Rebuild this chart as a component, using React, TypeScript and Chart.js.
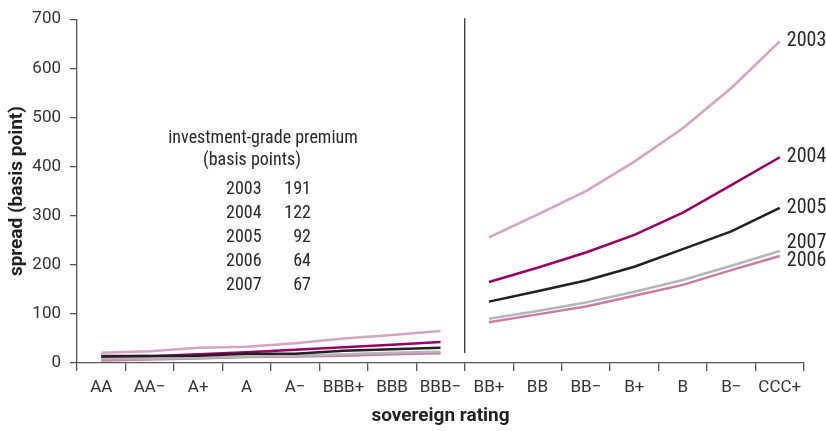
import React, { useEffect, useRef } from "react";
import { Chart, registerables } from "chart.js";

Chart.register(...registerables);

const ratings = ["AA", "AA\u2212", "A+", "A", "A\u2212", "BBB+", "BBB", "BBB\u2212", "BB+", "BB", "BB\u2212", "B+", "B", "B\u2212", "CCC+"];
const yTicks = [0, 100, 200, 300, 400, 500, 600, 700];

const s2003 = [21, 24, 31, 33, 40, 50, 57, 65, 256, 302, 350, 410, 478, 560, 655];
const s2004 = [14, 14, 18, 22, 27, 32, 37, 43, 165, 194, 225, 261, 306, 362, 419];
const s2005 = [13, 14, 15, 19, 19, 25, 28, 31, 125, 146, 168, 196, 232, 268, 316];
const s2006 = [5, 7, 9, 12, 13, 15, 18, 20, 83, 99, 115, 137, 159, 189, 218];
const s2007 = [9, 9, 10, 13, 15, 18, 21, 23, 90, 106, 123, 145, 169, 198, 228];

const premiumYears = ["2003", "2004", "2005", "2006", "2007"];
const premiumValues = ["191", "122", "92", "64", "67"];

const FAMILY = "Roboto, sans-serif";
const STRETCH = "condensed";

const seriesDefs = [
  { label: "2005", data: s2005, color: "#231f20", dy: 0 },
  { label: "2004", data: s2004, color: "#990066", dy: 0 },
  { label: "2007", data: s2007, color: "#b3b5b8", dy: -8 },
  { label: "2006", data: s2006, color: "#c97ba3", dy: 5 },
  { label: "2003", data: s2003, color: "#d4a2c2", dy: 0 },
];

const overlay = {
  id: "overlay",
  afterDatasetsDraw(chart: any) {
    const { ctx, scales } = chart;
    const x = scales.x;
    const y = scales.y;
    ctx.save();
    const xd = (x.getPixelForValue(7) + x.getPixelForValue(8)) / 2;
    ctx.strokeStyle = "#231f20";
    ctx.lineWidth = 1.2;
    ctx.beginPath();
    ctx.moveTo(xd, chart.chartArea.top - 1);
    ctx.lineTo(xd, chart.chartArea.bottom - 10);
    ctx.stroke();

    ctx.fillStyle = "#2a2627";
    ctx.font = `${STRETCH} 20px ${FAMILY}`;
    ctx.textAlign = "left";
    ctx.textBaseline = "middle";
    chart.data.datasets.forEach((ds: any, i: number) => {
      const last = ds.data.length - 1;
      const px = x.getPixelForValue(last) + 7;
      const py = y.getPixelForValue(ds.data[last]) + seriesDefs[i].dy;
      ctx.fillText(ds.label, px, py);
    });

    ctx.font = `${STRETCH} 18px ${FAMILY}`;
    ctx.textAlign = "center";
    ctx.fillText("investment-grade premium", 263, 138);
    ctx.fillText("(basis points)", 252, 160);
    premiumYears.forEach((yr, i) => {
      const ry = 189 + i * 24;
      ctx.textAlign = "left";
      ctx.fillText(yr, 226, ry);
      ctx.textAlign = "right";
      ctx.fillText(premiumValues[i], 311, ry);
    });
    ctx.restore();
  },
};

export default function App() {
  const ref = useRef<HTMLCanvasElement>(null);
  useEffect(() => {
    document.body.style.margin = "0";
    const canvas = ref.current!;
    const chart = new Chart(canvas, {
      type: "line",
      data: {
        labels: ratings,
        datasets: seriesDefs.map((s) => ({
          label: s.label,
          data: s.data,
          borderColor: s.color,
          backgroundColor: s.color,
          borderWidth: 2.5,
          pointRadius: 0,
          tension: 0,
          segment: {
            borderColor: (c: any) => (c.p0DataIndex === 7 ? "rgba(0,0,0,0)" : undefined),
          },
        })),
      },
      options: {
        responsive: false,
        animation: false,
        events: [],
        layout: { padding: { top: 13, right: 22, left: 0, bottom: 0 } },
        plugins: { legend: { display: false }, tooltip: { enabled: false } },
        scales: {
          x: {
            type: "category",
            offset: true,
            grid: { offset: true, drawOnChartArea: false, drawTicks: true, tickLength: 8, color: "#555", lineWidth: 1.3 },
            border: { color: "#555", width: 1.3 },
            ticks: { color: "#333", font: { family: FAMILY, style: STRETCH as any, size: 17 }, padding: 7, maxRotation: 0, autoSkip: false },
            title: { display: true, text: "sovereign rating", color: "#231f20", font: { family: FAMILY, style: STRETCH as any, size: 19, weight: "bold" }, padding: { top: 0, bottom: 3 } },
            afterFit: (s: any) => { s.height = 68; },
          },
          y: {
            min: 0,
            max: 700,
            afterBuildTicks: (s: any) => { s.ticks = yTicks.map((v) => ({ value: v })); },
            grid: { drawOnChartArea: false, drawTicks: true, tickLength: 7, color: "#555", lineWidth: 1.3 },
            border: { color: "#555", width: 1.3 },
            ticks: { color: "#333", font: { family: FAMILY, style: STRETCH as any, size: 17 }, padding: 9 },
            title: { display: true, text: "spread (basis point)", color: "#231f20", font: { family: FAMILY, style: STRETCH as any, size: 19, weight: "bold" }, padding: { top: 6, bottom: 0 } },
            afterFit: (s: any) => { s.width = 77; },
          },
        },
      },
      plugins: [overlay],
    });
    return () => chart.destroy();
  }, []);
  return <canvas ref={ref} width={826} height={431} style={{ display: "block" }} />;
}
